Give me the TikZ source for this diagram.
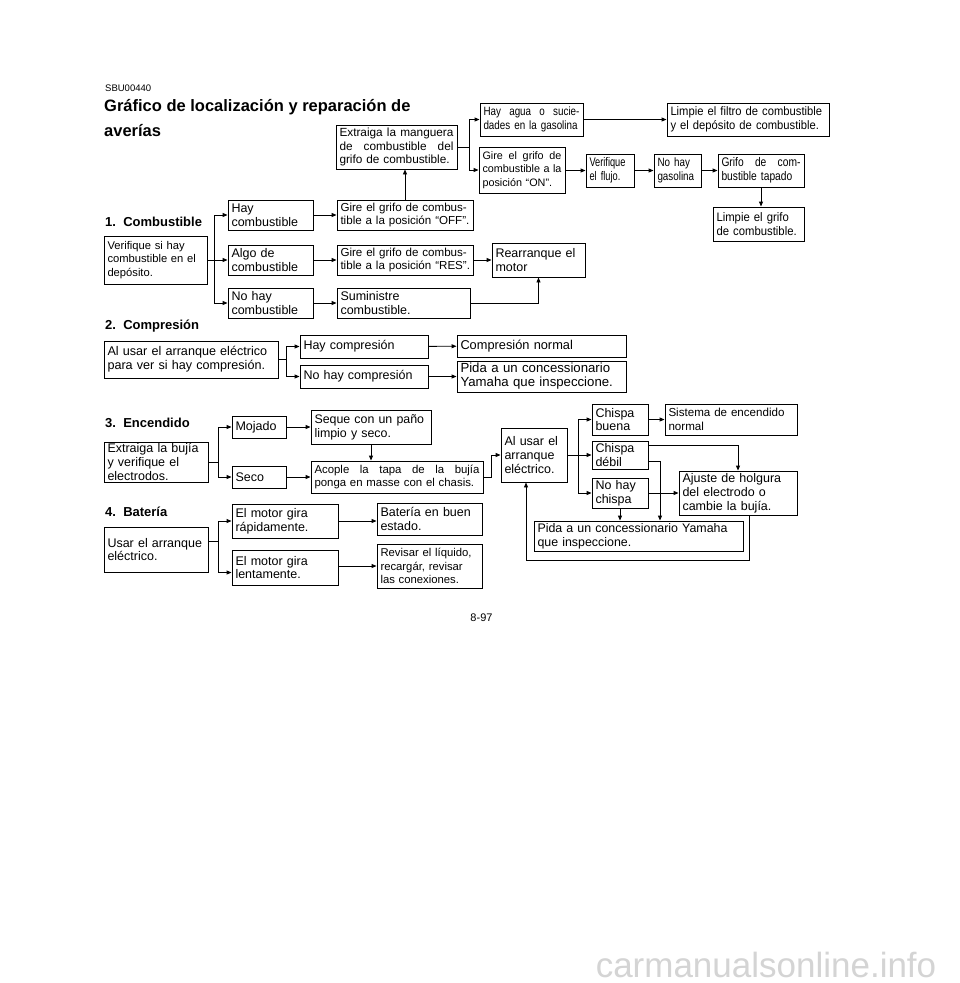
\documentclass[tikz,border=0pt]{standalone}
\usepackage{fontspec}
\setmainfont{Liberation Sans}
\newfontfamily\cA[FakeStretch=0.74]{Liberation Sans}
\newfontfamily\cB[FakeStretch=0.82]{Liberation Sans}
\newfontfamily\cC[FakeStretch=0.92]{Liberation Sans}
\usetikzlibrary{arrows.meta,calc}
\newcommand\fs[2]{\fontsize{#1}{#2}\selectfont}
\tikzset{
  box/.style={draw, line width=0.9pt, inner xsep=3.5pt, inner ysep=1pt, align=left, font=\fs{12.5}{13.8}},
  arr/.style={line width=0.9pt, -{Triangle[length=5pt,width=4pt]}},
  ln/.style={line width=0.9pt},
  head/.style={anchor=west, inner sep=0pt, font=\bfseries\fs{13}{14}},
}
\newcommand\bx[7][]{%
  \pgfmathsetmacro\bxw{#5-#3}%
  \pgfmathsetmacro\bxh{#6-#4}%
  \pgfmathsetmacro\bxt{#5-#3-7}%
  \node[box,minimum width=\bxw pt,minimum height=\bxh pt,text width=\bxt pt,#1] (#2) at ({(#3+#5)/2},{(#4+#6)/2}) {#7};}
\begin{document}
\begin{tikzpicture}[x=1pt,y=-1pt]
\fill[white] (0,0) rectangle (960,983);
\useasboundingbox (0,0) rectangle (960,983);

% headings
\node[anchor=west,inner sep=0pt,font=\fs{9.5}{11}] (code) at (105,88.5) {SBU00440};
\node[anchor=north west,inner sep=0pt,font=\bfseries\fs{16.5}{25},align=left] (title) at (104,99) {Gráfico de localización y reparación de\\averías};
\node[head] (h1) at (105,222) {1.\ \ Combustible};
\node[head] (h2) at (105,326) {2.\ \ Compresión};
\node[head] (h3) at (105,423) {3.\ \ Encendido};
\node[head] (h4) at (105,511.5) {4.\ \ Batería};
\node[inner sep=0pt,font=\fs{11}{12}] (page) at (481.5,617.5) {8-97};
\node[anchor=base,inner sep=0pt,font=\fs{35}{36},text=black!17] (wm) at (766,977) {carmanualsonline.info};

% ---------- 1. Combustible ----------
\bx[font=\fs{11.2}{13.5}]{verif}{104}{236}{207}{284}{Verifique si hay\\combustible en el\\depósito.}
\bx{hayc}{228}{200}{313}{230}{Hay\\combustible}
\bx{algo}{228}{245}{313}{275}{Algo de\\combustible}
\bx{nohayc}{228}{288}{313}{318}{No hay\\combustible}
\bx[font=\fs{11.6}{13.5}]{offb}{337}{200}{473}{230}{\mbox{Gire el grifo de combus-}\\\mbox{tible a la posición “OFF”.}}
\bx[font=\fs{11.6}{13.5}]{resb}{337}{245}{473}{275}{\mbox{Gire el grifo de combus-}\\\mbox{tible a la posición “RES”.}}
\bx{sumin}{337}{288}{470}{318}{Suministre\\combustible.}
\bx{rearr}{492}{243}{585}{277}{Rearranque el\\motor}
\bx[font=\fs{11.8}{13.5}]{extr}{336}{125}{457}{169}{Extraiga\hfill la\hfill manguera\\de\hfill combustible\hfill del\\grifo de combustible.}
\bx[font=\cB\fs{12}{14}]{agua}{480}{103}{583}{136}{Hay\hfill agua\hfill o\hfill sucie-\\dades en la gasolina}
\bx[font=\cC\fs{12.2}{14}]{filtro}{667}{103}{829}{136}{Limpie el filtro de combustible\\y el depósito de combustible.}
\bx[font=\fs{10.8}{13.5}]{gon}{479}{147}{565}{193}{Gire\hfill el\hfill grifo\hfill de\\combustible\hfill a\hfill la\\posición “ON”.}
\bx[font=\cA\fs{12.5}{14}]{flujo}{586}{154}{634}{187}{Verifique\\el flujo.}
\bx[font=\cB\fs{12}{14}]{nogas}{654}{154}{701}{187}{No hay\\gasolina}
\bx[font=\cB\fs{12.5}{14}]{tapado}{718}{154}{804}{187}{Grifo\hfill de\hfill com-\\bustible tapado}
\bx[font=\cC\fs{12.3}{14}]{limpg}{713}{207}{804}{241}{Limpie el grifo\\de combustible.}

\coordinate (j1) at (214,260);
\draw[ln] (verif.east) -- (j1);
\draw[arr] (j1) |- (hayc.west);
\draw[arr] (j1) -- (algo.west);
\draw[arr] (j1) |- (nohayc.west);
\draw[arr] (hayc) -- (offb);
\draw[arr] (algo) -- (resb);
\draw[arr] (nohayc) -- (sumin);
\draw[arr] (resb) -- (rearr);
\draw[arr] (sumin.east) -| (rearr.south);
\draw[arr] (offb.north) -- (offb.north |- extr.south);
\coordinate (j2) at (469,147);
\draw[ln] (extr.east) -- (j2);
\draw[arr] (j2) |- (agua.west);
\draw[arr] (j2) |- (gon.west);
\draw[arr] (agua) -- (filtro);
\draw[arr] (gon.east |- flujo.west) -- (flujo.west);
\draw[arr] (flujo) -- (nogas);
\draw[arr] (nogas) -- (tapado);
\draw[arr] (tapado.south) -- (tapado.south |- limpg.north);

% ---------- 2. Compresión ----------
\bx[font=\fs{12.6}{13.8}]{aluc}{104}{341}{278}{378}{Al usar el arranque eléctrico\\para ver si hay compresión.}
\bx{hayco}{300}{335}{428}{358}{Hay compresión}
\bx{nohayco}{300}{365}{428}{388}{No hay compresión}
\bx[font=\fs{12.8}{14}]{cnorm}{457}{335}{626}{357}{Compresión normal}
\bx[font=\fs{13.2}{14}]{pida1}{457}{361}{626}{392}{Pida a un concessionario\\Yamaha que inspeccione.}
\coordinate (j3) at (286,359.5);
\draw[ln] (aluc.east) -- (j3);
\draw[arr] (j3) |- (hayco.west);
\draw[arr] (j3) |- (nohayco.west);
\draw[arr] (hayco) -- (cnorm);
\draw[arr] (nohayco) -- (pida1);

% ---------- 3. Encendido ----------
\bx{extb}{104}{442}{208}{482}{Extraiga la bujía\\y verifique el\\electrodos.}
\bx{moj}{232}{416}{286}{438}{Mojado}
\bx{seco}{232}{466}{286}{488}{Seco}
\bx[font=\fs{12.4}{13.8}]{seq}{311}{410}{431}{444}{Seque con un paño\\limpio y seco.}
\bx[font=\fs{11.4}{13.5}]{acop}{311}{461}{483}{493}{Acople\hfill la\hfill tapa\hfill de\hfill la\hfill bujía\\ponga en masse con el chasis.}
\bx{alusi}{501}{428}{567}{482}{Al usar el\\arranque\\eléctrico.}
\bx{cbuena}{592}{404}{648}{435}{Chispa\\buena}
\bx[font=\fs{11.6}{13.5}]{sist}{665}{404}{797}{435}{Sistema de encendido\\normal}
\bx{cdebil}{592}{441}{648}{469}{Chispa\\débil}
\bx{nochis}{592}{478}{648}{508}{No hay\\chispa}
\bx{ajuste}{679}{471}{797}{515}{Ajuste de holgura\\del electrodo o\\cambie la bujía.}
\bx[font=\fs{12.4}{13.8}]{pida2}{534}{521}{743}{551}{Pida a un concessionario Yamaha\\que inspeccione.}

\coordinate (j4) at (218,462);
\draw[ln] (extb.east) -- (j4);
\draw[arr] (j4) |- (moj.west);
\draw[arr] (j4) |- (seco.west);
\draw[arr] (moj.east) -- (moj.east -| seq.west);
\draw[arr] (seco) -- (acop);
\draw[arr] (seq.south) -- (seq.south |- acop.north);
\draw[arr] (acop.east) -- ++(8,0) |- (alusi.west);
\coordinate (j5) at (578,455);
\draw[ln] (alusi.east) -- (j5);
\draw[arr] (j5) |- (cbuena.west);
\draw[arr] (j5) -- (cdebil.west);
\draw[arr] (j5) |- (nochis.west);
\draw[arr] (cbuena) -- (sist);
\draw[arr] ($(cdebil.north east)+(0,5)$) -| (ajuste.north);
\coordinate (k1) at (660,470);
\draw[arr] ($(cdebil.south east)+(0,-8)$) -| (k1 |- pida2.north);
\draw[arr] (nochis) -- (ajuste);
\draw[arr] (nochis.south) -- (nochis.south |- pida2.north);
\coordinate (k2) at (749,560);
\coordinate (k3) at (526,560);
\draw[arr] (ajuste.south -| k2) -- (k2) -- (k3) -- (k3 |- alusi.south);

% ---------- 4. Batería ----------
\bx{usar}{104}{527}{208}{572}{Usar el arranque\\eléctrico.}
\bx{rapid}{232}{504}{338}{538}{El motor gira\\rápidamente.}
\bx{lent}{232}{550}{338}{585}{El motor gira\\lentamente.}
\bx{bat}{377}{503}{482}{535}{Batería en buen\\estado.}
\bx[font=\fs{11.3}{13.5}]{rev}{377}{544}{482}{588}{Revisar el líquido,\\recargár, revisar\\las conexiones.}
\coordinate (j6) at (218,541);
\draw[ln] (usar.east |- j6) -- (j6);
\draw[arr] (j6) |- (rapid.west);
\draw[arr] (j6) |- ($(lent.west)+(0,5)$);
\draw[arr] (rapid) -- (rapid -| bat.west);
\draw[arr] (rev.west -| lent.east) -- (rev.west);
\end{tikzpicture}
\end{document}
